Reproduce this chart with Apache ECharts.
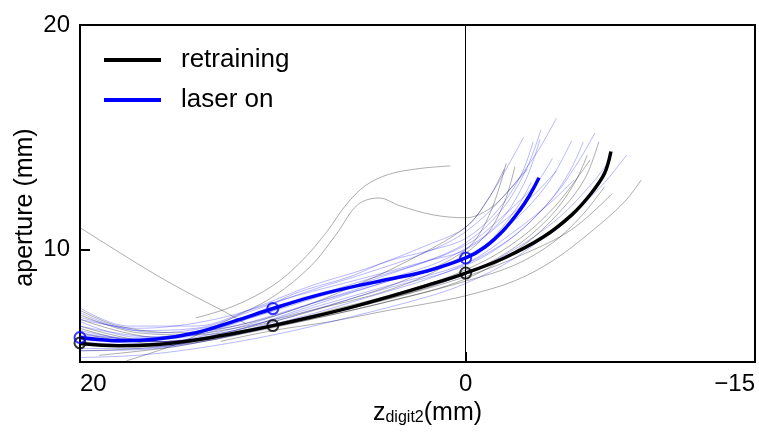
<!DOCTYPE html>
<html><head><meta charset="utf-8">
<script src="https://cdn.jsdelivr.net/npm/echarts@6/dist/echarts.min.js"></script>
<style>html,body{margin:0;padding:0;background:#fff}#c{width:759px;height:437px}</style>
</head><body><div id="c"></div>
<script>
const xTicks = [20, 0, -15];
const yTicks = [10, 20];

const retrainingMean = [[20,5.82],[18,5.72],[16,5.78],[14,5.98],[12,6.28],[10,6.62],[8,7.0],[6,7.42],[4,7.9],[2,8.41],[0,8.96],[-2,9.63],[-4,10.55],[-5.5,11.55],[-6.5,12.5],[-7.2,13.4],[-7.53,14.37]];
const laserMean = [[20,6.09],[18,5.95],[16,6.02],[14,6.3],[12,6.82],[10,7.38],[8,7.9],[6,8.32],[4,8.68],[2,9.05],[0,9.63],[-1,10.12],[-2,10.9],[-2.8,11.75],[-3.3,12.4],[-3.8,13.2]];

const retrainingMarks = [[20,5.85],[10,6.62],[0,8.96]];
const laserMarks = [[20,6.09],[10,7.38],[0,9.63]];

const retrainingTrials = [
  [[20,10.98],[18,9.9],[16,8.85],[14,7.9],[12.7,7.33],[11.4,6.7]],
  [[14,6.96],[12,7.5],[10,8.4],[8.5,9.5],[7.2,10.8],[6.2,12.0],[5.2,12.85],[4.0,13.35],[2.5,13.6],[0.8,13.73]],
  [[17.6,5.05],[15,5.8],[12.5,6.8],[10,7.9],[8,9.3],[6.7,10.7],[5.6,12.0],[4.5,12.3],[3.4,11.95],[1.7,11.55],[0,11.42],[-1.2,11.8],[-2.2,12.6],[-3.2,13.6]],
  [[12.7,5.92],[10,6.4],[7,6.8],[4,7.3],[2,7.6],[0,7.95],[-2.5,8.6],[-4.5,9.5],[-6.5,10.8],[-8.2,12.1],[-9.1,13.1]],
  [[20,6.3],[17,5.9],[14,6.0],[11,6.4],[7,7.1],[3,7.9],[0,8.6],[-2.5,9.3],[-4.5,10.3],[-6,11.5],[-7.2,12.8]],
  [[20,6.6],[16,5.9],[12,6.3],[8,7.0],[4,7.8],[0,8.8],[-3,9.8],[-5.5,10.9],[-7.6,12.5]],
  [[20,7.1],[17,6.3],[14,6.2],[10,6.8],[6,7.8],[3,8.7],[0,10.0],[-1.2,11.5],[-2.1,13.85]],
  [[20,6.9],[16,6.1],[12,6.5],[8,7.3],[4,8.2],[1,9.3],[-1,10.6],[-2,12.1],[-2.55,13.7]],
  [[20,6.5],[16,5.8],[12,6.2],[8,6.9],[4,7.7],[0,8.7],[-3,10.2],[-5,11.8],[-6.2,13.2],[-6.9,14.8]],
  [[20,5.5],[17,5.6],[13,6.0],[9,6.8],[5,7.6],[1,8.6],[-2,9.8],[-4.3,11.4],[-5.6,12.9],[-6.3,14.2]],
  [[19,5.3],[15,5.7],[11,6.4],[7,7.3],[3,8.2],[0,9.1],[-2.5,10.3],[-4.6,11.9],[-6.45,14.0]],
  [[20,7.3],[18,6.6],[15,6.3],[12,6.6],[9,7.3],[6,8.3],[3,9.5],[0,11.0],[-1.2,12.3],[-2.0,13.6]]
];

const laserTrials = [
  [[20,7.2],[17,6.4],[14,6.5],[11,7.3],[8,8.2],[5,9.0],[2,9.9],[0,10.8],[-2,12.4],[-3.6,14.2],[-4.7,15.85]],
  [[20,6.8],[17,6.1],[14,6.3],[11,7.0],[8,7.9],[5,8.7],[2,9.5],[0,10.3],[-1.8,11.7],[-3.1,13.5],[-3.9,15.33]],
  [[20,6.4],[16,5.9],[12,6.5],[8,7.6],[4,8.7],[1,9.6],[-1.5,11.0],[-3,12.9],[-3.85,14.9]],
  [[20,6.0],[16,5.8],[12,6.3],[8,7.3],[4,8.3],[0,9.3],[-2.5,10.6],[-4.6,12.4],[-5.9,14.0],[-6.7,15.2]],
  [[20,5.6],[17,5.6],[13,6.1],[9,6.9],[5,7.9],[1,9.0],[-2,10.3],[-4.2,12.0],[-5.4,13.5],[-6.1,14.8]],
  [[20,6.2],[16,6.0],[12,6.6],[8,7.6],[4,8.6],[0,9.7],[-2.4,11.2],[-4.3,13.0],[-5.5,14.86]],
  [[20,7.0],[16,6.3],[12,6.8],[8,7.8],[4,8.9],[0,10.2],[-2.2,11.7],[-3.7,13.0],[-4.5,14.07]],
  [[20,5.2],[17,5.3],[14,5.6],[10,6.2],[6,7.0],[2,7.9],[0,8.5],[-2.5,9.6],[-5,11.2],[-7,12.8],[-8.35,14.22]],
  [[20,6.6],[16,6.1],[12,6.7],[9,8.0],[6,8.8],[4,9.5],[1.7,10.0],[0,10.5],[-1.5,11.6],[-2.8,13.2],[-3.5,14.8]],
  [[20,5.9],[16,5.7],[12,6.4],[8,7.4],[4,8.4],[0,9.4],[-2.5,10.8],[-4.4,12.1],[-5.6,13.1]],
  [[20,6.9],[17,6.5],[13,6.9],[9,7.9],[5,8.8],[2,9.5],[0,10.0],[-2,11.3],[-3.6,12.5],[-4.7,13.5]],
  [[20,5.5],[16,5.6],[12,6.2],[8,7.0],[4,7.9],[0,8.9],[-2.5,10.0],[-4.8,11.4],[-6.5,12.9],[-7.5,14.0]],
  [[20,7.4],[17.5,6.6],[14,6.6],[11,7.4],[8,8.4],[5,9.2],[2,10.2],[0,11.0],[-1.2,12.3],[-2.3,13.9],[-3.0,15.0]],
  [[20,6.3],[16,5.9],[12,6.4],[8,7.5],[4,8.6],[1,9.3],[-1,10.2],[-2.6,11.8],[-3.4,13.0]]
];

const FONT = 'Liberation Sans';
const SMOOTH = 0.35;
const series = [];
retrainingTrials.forEach((d, i) => series.push({
  type: 'line', name: 'retraining trial ' + i, data: d, smooth: SMOOTH, symbol: 'none',
  lineStyle: { color: 'rgba(0,0,0,0.32)', width: 1 }, z: 1, silent: true
}));
laserTrials.forEach((d, i) => series.push({
  type: 'line', name: 'laser trial ' + i, data: d, smooth: SMOOTH, symbol: 'none',
  lineStyle: { color: 'rgba(0,0,255,0.28)', width: 1 }, z: 1, silent: true
}));
series.push({
  type: 'line', name: 'retraining', data: retrainingMean, smooth: SMOOTH, symbol: 'none',
  lineStyle: { color: '#000', width: 3.5 }, itemStyle: { color: '#000' }, z: 5,
  markLine: { silent: true, symbol: 'none', label: { show: false },
    lineStyle: { color: '#000', width: 1, type: 'solid' }, data: [{ xAxis: 0 }] }
});
series.push({
  type: 'line', name: 'laser on', data: laserMean, smooth: SMOOTH, symbol: 'none',
  lineStyle: { color: '#0000ff', width: 3.5 }, itemStyle: { color: '#0000ff' }, z: 6
});
series.push({
  type: 'scatter', name: 'retraining marks', data: retrainingMarks, symbol: 'circle', symbolSize: 11,
  itemStyle: { color: 'rgba(0,0,0,0)', borderColor: '#000', borderWidth: 2 }, z: 7, clip: true
});
series.push({
  type: 'scatter', name: 'laser marks', data: laserMarks, symbol: 'circle', symbolSize: 11,
  itemStyle: { color: 'rgba(0,0,0,0)', borderColor: '#0000ff', borderWidth: 2 }, z: 7, clip: true
});

const chart = echarts.init(document.getElementById('c'), null, { renderer: 'canvas' });
chart.setOption({
  animation: false,
  backgroundColor: '#fff',
  textStyle: { fontFamily: FONT },
  grid: { left: 80, right: 4, top: 25, bottom: 75, show: true, borderColor: '#000', borderWidth: 2,
    backgroundColor: 'transparent', outerBoundsMode: 'none', containLabel: false },
  legend: {
    data: ['retraining', 'laser on'], orient: 'vertical', left: 104, top: 47, padding: 0,
    itemWidth: 57, itemHeight: 4, itemGap: 14, icon: 'rect',
    textStyle: { fontFamily: FONT, fontSize: 26, color: '#000', padding: [0, 0, 0, 15] }
  },
  xAxis: {
    type: 'value', min: -15, max: 20, inverse: true,
    axisLine: { show: true, onZero: false, lineStyle: { color: '#000', width: 2 } },
    axisTick: { show: true, inside: true, length: 10, customValues: xTicks, lineStyle: { color: '#000', width: 2 } },
    axisLabel: { customValues: xTicks, fontFamily: FONT, fontSize: 24, color: '#000', margin: 10,
      alignMinLabel: 'left', alignMaxLabel: 'right',
      formatter: v => (v < 0 ? '\u2212' + Math.abs(v) : String(v)) },
    splitLine: { show: false },
    name: '{z|z}{s|digit2}{z|(mm)}', nameLocation: 'middle', nameGap: 39, nameMoveOverlap: false,
    nameTextStyle: { color: '#000', padding: [0, 0, 0, 20],
      rich: { z: { fontFamily: FONT, fontSize: 25, lineHeight: 25, verticalAlign: 'top', color: '#000' },
              s: { fontFamily: FONT, fontSize: 16, lineHeight: 16, verticalAlign: 'bottom', padding: [13, 0, 0, 0], color: '#000' } } }
  },
  yAxis: {
    type: 'value', min: 5, max: 20, interval: 5,
    axisLine: { show: true, onZero: false, lineStyle: { color: '#000', width: 2 } },
    axisTick: { show: true, inside: true, length: 10, customValues: yTicks, lineStyle: { color: '#000', width: 2 } },
    axisLabel: { customValues: yTicks, fontFamily: FONT, fontSize: 24, color: '#000', margin: 10 },
    splitLine: { show: false },
    name: 'aperture (mm)', nameLocation: 'middle', nameGap: 42, nameMoveOverlap: false,
    nameTextStyle: { fontFamily: FONT, fontSize: 25, color: '#000', padding: [0, 28, 0, 0] }
  },
  series: series
});
</script>
</body></html>
